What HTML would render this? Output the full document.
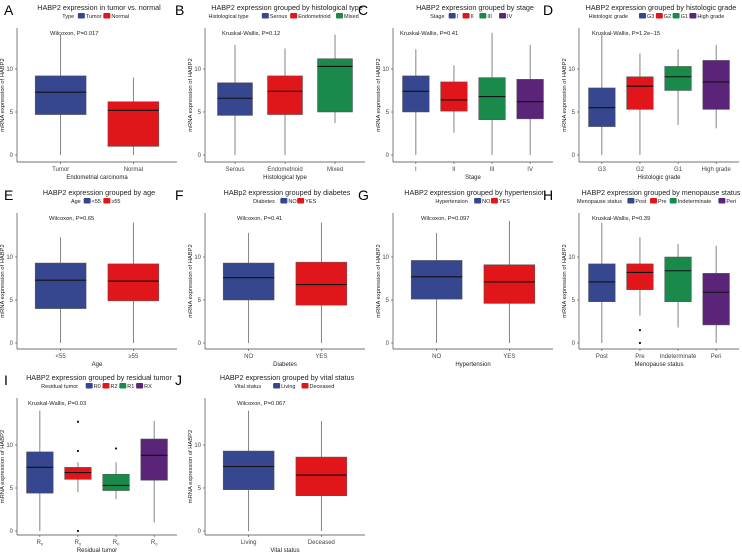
<!DOCTYPE html>
<html><head><meta charset="utf-8"><style>
body{margin:0;background:#fff}
svg{display:block;font-family:"Liberation Sans",sans-serif}
</style></head><body>
<svg id="fig" width="742" height="553" viewBox="0 0 742 553"></svg>
<script>
const panelLetters=["A","B","C","D","E","F","G","H","I","J"];
const panelTitles=["HABP2 expression in tumor vs. normal","HABP2 expression grouped by histological type","HABP2 expression grouped by stage","HABP2 expression grouped by histologic grade","HABP2 expression grouped by age","HABp2 expression grouped by diabetes","HABP2 expression grouped by hypertension","HABP2 expression grouped by menopause status","HABP2 expression grouped by residual tumor","HABP2 expression grouped by vital status"];
const legendTitles=["Type","Histological type","Stage","Histologic grade","Age","Diabetes","Hypertension","Menopause status","Residual tumor","Vital status"];
const xTitles=["Endometrial carcinoma","Histological type","Stage","Histologic grade","Age","Diabetes","Hypertension","Menopause status","Residual tumor","Vital status"];
const statTexts=["Wilcoxon, P=0.017","Kruskal-Wallis, P=0.12","Kruskal-Wallis, P=0.41","Kruskal-Wallis, P=1.2e\u221215","Wilcoxon, P=0.65","Wilcoxon, P=0.41","Wilcoxon, P=0.097","Kruskal-Wallis, P=0.39","Kruskal-Wallis, P=0.03","Wilcoxon, P=0.067"];
const categories=[["Tumor","Normal"],["Serous","Endometrioid","Mixed"],["I","II","III","IV"],["G3","G2","G1","High grade"],["<55","\u226555"],["NO","YES"],["NO","YES"],["Post","Pre","Indeterminate","Peri"],["R0","R2","R1","RX"],["Living","Deceased"]];
const legendLabels=[["Tumor","Normal"],["Serous","Endometrioid","Mixed"],["I","II","III","IV"],["G3","G2","G1","High grade"],["<55","\u226555"],["NO","YES"],["NO","YES"],["Post","Pre","Indeterminate","Peri"],["R0","R2","R1","RX"],["Living","Deceased"]];
// [min,q1,median,q3,max]
const boxStats=[
 [[0,4.7,7.3,9.2,14],[0,1,5.2,6.2,9]],
 [[0,4.6,6.6,8.4,12.8],[0,4.7,7.4,9.2,12.4],[3.7,5,10.3,11.2,14]],
 [[0,5,7.4,9.2,12.3],[2.6,5.1,6.4,8.5,10.4],[0,4.1,6.8,9,14.2],[0,4.2,6.2,8.8,12.8]],
 [[0,3.3,5.5,7.8,14],[0,5.3,8,9.1,11.8],[3.5,7.5,9.1,10.3,12.3],[3.1,5.3,8.5,11,12.8]],
 [[0,4,7.3,9.3,12.3],[0,4.9,7.2,9.2,14]],
 [[0,5,7.6,9.3,12.8],[0,4.4,6.8,9.4,14]],
 [[0,5.1,7.7,9.6,12.8],[0,4.6,7.1,9.1,14.2]],
 [[0,4.8,7.1,9.2,14],[3.2,6.2,8.2,9.2,12.3],[1.8,4.8,8.4,10,11.5],[0,2.1,5.9,8.1,11.3]],
 [[0,4.4,7.4,9.2,14],[4.5,6,6.8,7.4,8],[3.7,4.7,5.3,6.6,8],[1,5.9,8.8,10.7,12.8]],
 [[0,4.8,7.5,9.3,14],[0,4.1,6.5,8.6,12.8]]
];
const outliers=[[[],[]],[[],[],[]],[[],[],[],[]],[[],[],[],[]],[[],[]],[[],[]],[[],[]],[[],[1.5,0],[],[]],[[],[12.7,9.3,0],[9.6],[]],[[],[]]];
const yTicks=[0,5,10];
const palettes=[["#36478f","#e0161b"],["#36478f","#e0161b","#198a4a"],["#36478f","#e0161b","#198a4a","#5a2479"],["#36478f","#e0161b","#198a4a","#5a2479"],["#36478f","#e0161b"],["#36478f","#e0161b"],["#36478f","#e0161b"],["#36478f","#e0161b","#198a4a","#5a2479"],["#36478f","#e0161b","#198a4a","#5a2479"],["#36478f","#e0161b"]];
const colX=[17,205,393,579],rowY0=[155,343,531],rowAxis=[162,349,535],rowTop=[0,185,370];
const letterX=[4,175,358,543];
const statOff=[33,17,7,13,32,32,28,13,11,32];
const svg=document.getElementById('fig');const NS="http://www.w3.org/2000/svg";
function mk(tag,attrs,parent,text){const e=document.createElementNS(NS,tag);for(const k in attrs)e.setAttribute(k,attrs[k]);if(text!==undefined)e.textContent=text;(parent||svg).appendChild(e);return e;}
const W=160;
for(let p=0;p<10;p++){
 const r=Math.floor(p/4),c=p%4;const ax=colX[c],y0=rowY0[r],axl=rowAxis[r],top=rowTop[r];
 const g=mk('g',{});
 const yS=v=>y0-v*8.6;const n=categories[p].length;const sp=W/(n+0.2);const xS=i=>ax+sp*(i+0.6);
 const cx=ax+W/2;
 let t=mk('text',{x:letterX[c],y:top+15,'font-size':14},g,panelLetters[p]);
 t=mk('text',{x:cx+2,y:top+10,'font-size':7.2,'text-anchor':'middle',fill:'#222'},g,panelTitles[p]);
 const lg=mk('g',{},g);
 const fs=5.5,cw=2.9;let tw=legendTitles[p].length*cw+4;legendLabels[p].forEach(l=>tw+=8+l.length*cw+3);
 let lx=cx-tw/2;const ly=top+18;
 mk('text',{x:lx,y:ly,'font-size':fs,fill:'#222'},lg,legendTitles[p]);lx+=legendTitles[p].length*cw+4;
 legendLabels[p].forEach((l,i)=>{const k=mk('rect',{x:lx,y:ly-5,width:7,height:5.5,fill:palettes[p][i],rx:1},lg);lx+=8;mk('text',{x:lx,y:ly,'font-size':fs,fill:'#222'},lg,l);lx+=l.length*cw+3;});
 let a=mk('line',{x1:ax,y1:top+28,x2:ax,y2:axl,stroke:'#444','stroke-width':0.7},g);
 a=mk('line',{x1:ax,y1:axl,x2:ax+W,y2:axl,stroke:'#444','stroke-width':0.7},g);
 yTicks.forEach(v=>{mk('line',{x1:ax-2,y1:yS(v),x2:ax,y2:yS(v),stroke:'#444','stroke-width':0.6},g);const tl=mk('text',{x:ax-4,y:yS(v)+2,'font-size':6,'text-anchor':'end',fill:'#444'},g,String(v));});
 t=mk('text',{transform:`translate(${ax-13},${(top+28+axl)/2}) rotate(-90)`,'font-size':5.8,'text-anchor':'middle',fill:'#222'},g,'mRNA expression of HABP2');
 t=mk('text',{x:cx,y:axl+17,'font-size':6,'text-anchor':'middle',fill:'#222'},g,xTitles[p]);
 t=mk('text',{x:ax+statOff[p],y:top+35,'font-size':5.8,fill:'#222'},g,statTexts[p]);
 const bw=sp*0.7;
 categories[p].forEach((cat,i)=>{
  const x=xS(i),s=boxStats[p][i];
  mk('line',{x1:x,y1:axl,x2:x,y2:axl+2,stroke:'#444','stroke-width':0.6},g);
  let tl;
  if(p===8){tl=mk('text',{x:x,y:axl+9,'font-size':6,'text-anchor':'middle',fill:'#444'},g);mk('tspan',{},tl,'R');mk('tspan',{'font-size':4,dy:1.5},tl,'0');}
  else tl=mk('text',{x:x,y:axl+9,'font-size':6,'text-anchor':'middle',fill:'#444'},g,cat);
  
  const w=mk('line',{x1:x,y1:yS(s[0]),x2:x,y2:yS(s[4]),stroke:'#666','stroke-width':0.8},g);
  const b=mk('rect',{x:x-bw/2,y:yS(s[3]),width:bw,height:yS(s[1])-yS(s[3]),fill:palettes[p][i],stroke:'#555','stroke-width':0.5},g);
  const m=mk('line',{x1:x-bw/2,y1:yS(s[2]),x2:x+bw/2,y2:yS(s[2]),stroke:'#111','stroke-width':1.1},g);
  outliers[p][i].forEach(v=>{const o=mk('circle',{cx:x,cy:yS(v),r:1.1,fill:'#111'},g);});
 });
}
</script>
</body></html>
